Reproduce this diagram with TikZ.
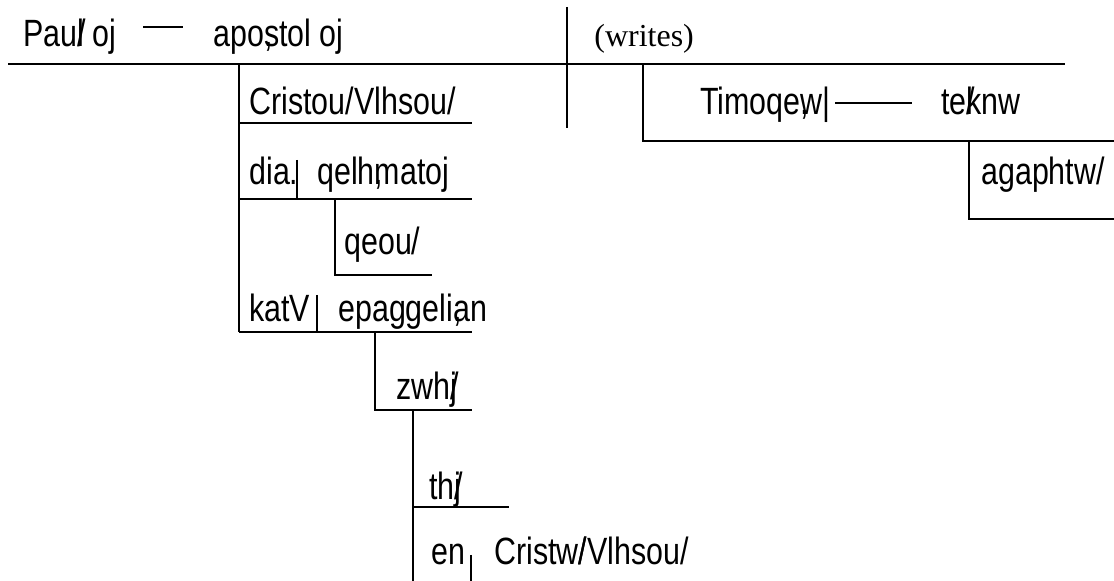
\documentclass[tikz,border=0pt]{standalone}
\usepackage{fontspec}
\setmainfont{Liberation Serif}
\setsansfont{Liberation Sans}[FakeStretch=0.8]
\newcommand{\ac}[1]{\rlap{#1}}
\begin{document}
\begin{tikzpicture}[x=0.5pt,y=-0.5pt,line width=1.35pt]
  \tikzstyle{word}=[anchor=base west,inner sep=0pt,font=\sffamily\fontsize{19}{22}\selectfont]
  \tikzstyle{gloss}=[anchor=base west,inner sep=0pt,font=\rmfamily\fontsize{16}{19}\selectfont]
  \useasboundingbox (0,0) rectangle (1114,581);
  % subject and verb
  \node[word] (paulos) at (22,47) {Pau\ac{/}l oj};
  \node[word] (apostolos) at (212,47) {apo\ac{,}stol oj};
  \node[gloss] (writes) at (593,47) {(writes)};
  \draw (143,27) -- (183,27);
  \draw (8,64) -- (1065,64);
  \draw (567,7) -- (567,128);
  % modifiers of apostoloj
  \draw (239,64) -- (239,332);
  \node[word] (christou) at (248,115) {Cristou/Vlhsou/};
  \draw (239,123) -- (472,123);
  \node[word] (dia) at (248,185) {dia.};
  \node[word] (thelematos) at (316,185) {qelh\ac{,}matoj};
  \draw (297,160) -- (297,199);
  \draw (239,199) -- (472,199);
  \draw (335,199) -- (335,275) -- (432,275);
  \node[word] (theou) at (343,255) {qeou/};
  \node[word] (kata) at (248,322) {katV};
  \node[word] (epangelian) at (337,322) {epaggeli\ac{,}an};
  \draw (317,295) -- (317,332);
  \draw (239,332) -- (472,332);
  \draw (375,332) -- (375,410) -- (472,410);
  \node[word] (zoes) at (395,400) {zwh\ac{/}j};
  \draw (413,410) -- (413,581);
  \node[word] (tes) at (428,500) {th\ac{/}j};
  \draw (413,507) -- (509,507);
  \node[word] (en) at (430,565) {en};
  \draw (471,555) -- (471,581);
  \node[word] (christo) at (493,565) {Cristw\ac{/}/Vlhsou/};
  % indirect object
  \draw (643,64) -- (643,141) -- (1114,141);
  \node[word] (timotheo) at (699,115) {Timoqe\ac{,}w|};
  \draw (835,103) -- (912,103);
  \node[word] (tekno) at (940,115) {te\ac{/}knw};
  \draw (969,141) -- (969,219) -- (1114,219);
  \node[word] (agapeto) at (980,185) {agaphtw/};
\end{tikzpicture}
\end{document}
